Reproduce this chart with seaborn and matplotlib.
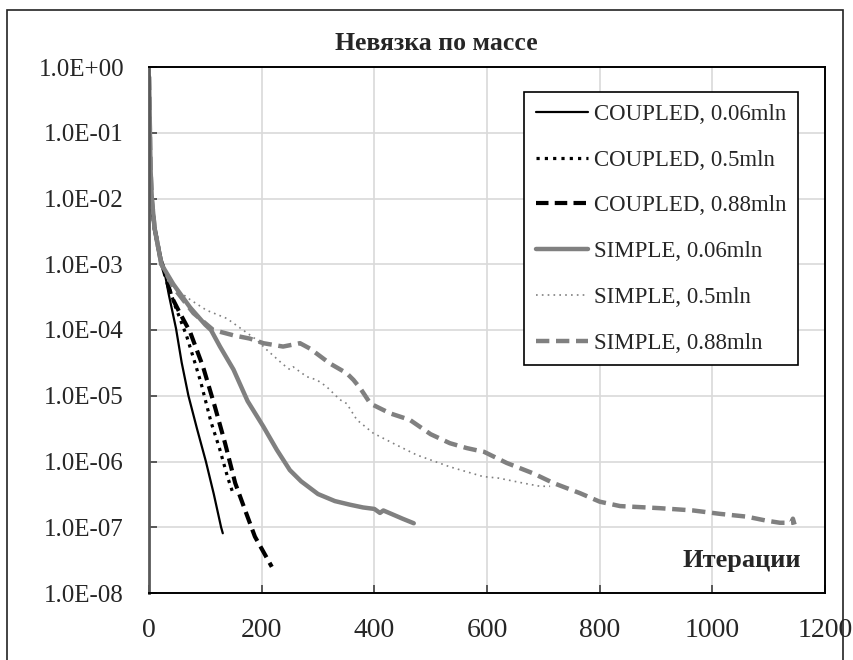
import matplotlib
matplotlib.use("Agg")
import matplotlib.pyplot as plt
from matplotlib.patches import Rectangle
from matplotlib.ticker import FixedLocator, FuncFormatter, NullLocator
import pandas as pd
import seaborn as sns

# ---------------- data ----------------
title = "Невязка по массе"
xlabel = "Итерации"

names = ["COUPLED, 0.06mln", "COUPLED, 0.5mln", "COUPLED, 0.88mln",
         "SIMPLE, 0.06mln", "SIMPLE, 0.5mln", "SIMPLE, 0.88mln"]

c006_x = [0, 2, 5, 10, 16, 25, 35, 48, 58, 70, 85, 101, 115, 128, 131]
c006_y = [4.5e-2, 1.6e-2, 7.9e-3, 3.5e-3, 1.8e-3, 1.0e-3, 3.5e-4, 1.05e-4,
          3.2e-5, 1.0e-5, 3.2e-6, 1.0e-6, 3.2e-7, 1.0e-7, 8.1e-8]

c05_x = [0, 2, 5, 10, 20, 30, 45, 67, 80, 92, 110, 125, 140, 148]
c05_y = [4.0e-2, 1.4e-2, 8.0e-3, 3.5e-3, 1.25e-3, 6.3e-4, 2.5e-4, 8.0e-5,
         3.5e-5, 1.6e-5, 4.0e-6, 1.6e-6, 5.6e-7, 3.5e-7]

c088_x = [0, 2, 5, 10, 20, 30, 40, 55, 73, 96, 117, 135, 153, 173, 188, 218]
c088_y = [5.0e-2, 1.6e-2, 8.0e-3, 3.5e-3, 1.25e-3, 6.3e-4, 3.2e-4, 1.8e-4,
          9.3e-5, 2.75e-5, 6.8e-6, 1.9e-6, 4.7e-7, 1.6e-7, 7.2e-8, 2.5e-8]

s006_x = [0, 1, 2, 3, 5, 10, 22, 43, 73, 100, 110, 126, 150, 175, 203, 227,
          250, 270, 300, 330, 357, 380, 400, 410, 416, 430, 450, 470]
s006_y = [0.71, 0.25, 6.3e-2, 2.5e-2, 1.0e-2, 3.5e-3, 1.0e-3, 5.0e-4, 2.2e-4,
          1.2e-4, 1.0e-4, 5.6e-5, 2.5e-5, 8.3e-6, 3.4e-6, 1.5e-6, 7.4e-7,
          5.0e-7, 3.2e-7, 2.5e-7, 2.2e-7, 2.0e-7, 1.9e-7, 1.65e-7, 1.8e-7,
          1.6e-7, 1.35e-7, 1.15e-7]

s05_x = [0, 1, 2, 3, 5, 10, 22, 35, 49, 73, 102, 138, 162, 191, 209, 238,
         250, 256, 280, 298, 315, 339, 351, 369, 398, 435, 475, 534, 593,
         620, 664, 694, 712]
s05_y = [0.71, 0.25, 6.3e-2, 2.5e-2, 1.0e-2, 3.5e-3, 1.1e-3, 5.6e-4, 4.1e-4,
         2.9e-4, 2.0e-4, 1.5e-4, 1.07e-4, 7.1e-5, 5.0e-5, 3.0e-5, 2.5e-5,
         2.75e-5, 1.95e-5, 1.74e-5, 1.38e-5, 8.7e-6, 7.6e-6, 4.3e-6, 2.7e-6,
         1.86e-6, 1.26e-6, 8.3e-7, 5.9e-7, 5.6e-7, 4.7e-7, 4.2e-7, 4.2e-7]

s088_x = [0, 1, 2, 3, 5, 10, 22, 43, 79, 114, 150, 179, 203, 238, 268, 286,
          321, 351, 363, 375, 393, 428, 463, 500, 534, 564, 595, 635, 682,
          718, 765, 800, 836, 907, 966, 1013, 1061, 1096, 1120, 1140, 1143,
          1146]
s088_y = [0.71, 0.25, 6.3e-2, 2.5e-2, 1.0e-2, 3.5e-3, 1.0e-3, 4.5e-4, 1.8e-4,
          1.0e-4, 8.3e-5, 7.4e-5, 6.3e-5, 5.6e-5, 6.3e-5, 5.2e-5, 3.1e-5,
          2.2e-5, 1.74e-5, 1.3e-5, 7.6e-6, 5.4e-6, 4.3e-6, 2.6e-6, 1.9e-6,
          1.6e-6, 1.4e-6, 9.5e-7, 6.6e-7, 4.7e-7, 3.3e-7, 2.45e-7, 2.1e-7,
          1.95e-7, 1.8e-7, 1.6e-7, 1.45e-7, 1.26e-7, 1.17e-7, 1.17e-7,
          1.35e-7, 1.1e-7]

x_ticks = [0, 200, 400, 600, 800, 1000, 1200]
y_ticks = [1e0, 1e-1, 1e-2, 1e-3, 1e-4, 1e-5, 1e-6, 1e-7, 1e-8]

# ---------------- styling ----------------
sns.set_theme(style="white")
plt.rcParams["font.family"] = ["Liberation Serif", "DejaVu Serif"]

GRAY = "#808080"
styles = [
    dict(color="black", lw=1.6, ls="-"),
    dict(color="black", lw=2.3, ls=(0, (1, 1.6))),
    dict(color="black", lw=3.0, ls=(0, (3, 1.5))),
    dict(color=GRAY, lw=3.2, ls="-"),
    dict(color=GRAY, lw=1.2, ls=(0, (1, 2.5))),
    dict(color=GRAY, lw=3.2, ls=(0, (3, 1.5))),
]
series = [(c006_x, c006_y), (c05_x, c05_y), (c088_x, c088_y),
          (s006_x, s006_y), (s05_x, s05_y), (s088_x, s088_y)]

fig = plt.figure(figsize=(8.54, 6.6), dpi=100)
ax = fig.add_axes([149 / 854, 1 - 593 / 660, 676 / 854, 526 / 660])

for name, (xs, ys), st in zip(names, series, styles):
    df = pd.DataFrame({"x": xs, "y": ys})
    sns.lineplot(data=df, x="x", y="y", ax=ax, estimator=None, sort=False,
                 color=st["color"], linewidth=st["lw"], linestyle=st["ls"],
                 label=name)

ax.set_yscale("log")
ax.set_xlim(0, 1200)
ax.set_ylim(1e-8, 1)
ax.xaxis.set_major_locator(FixedLocator(x_ticks))
ax.yaxis.set_major_locator(FixedLocator(y_ticks))
ax.yaxis.set_minor_locator(NullLocator())
ax.yaxis.set_major_formatter(FuncFormatter(lambda v, p: f"{v:.1E}"))
ax.set_xlabel("")
ax.set_ylabel("")

ax.grid(True, which="major", color="#d9d9d9", lw=1.2)
ax.set_axisbelow(True)
ax.tick_params(axis="both", which="major", direction="in", length=6, width=1.2,
               color="#404040", left=True, bottom=True, top=False, right=False)
ax.tick_params(axis="y", labelsize=18, pad=18)
ax.tick_params(axis="x", labelsize=20, pad=18)

for side in ["top", "right", "bottom"]:
    ax.spines[side].set_color("black")
    ax.spines[side].set_linewidth(1.4)
ax.spines["left"].set_color("#595959")
ax.spines["left"].set_linewidth(2.0)

leg = ax.legend(loc="upper right", bbox_to_anchor=(0.960, 0.952),
                frameon=True, fancybox=False, edgecolor="black",
                framealpha=1, fontsize=16.5, handlelength=2.3,
                handletextpad=0.25, labelspacing=1.08, borderpad=0.5,
                borderaxespad=0)
leg.get_frame().set_linewidth(1.2)

fig.text(436 / 854, 1 - 43 / 660, title, ha="center", va="center",
         fontsize=18.5, fontweight="bold")
fig.text(742 / 854, 1 - 560 / 660, xlabel, ha="center", va="center",
         fontsize=19, fontweight="bold")

fig.patches.append(Rectangle((7 / 854, -0.05), (843 - 7) / 854, 0.9848 + 0.05,
                             transform=fig.transFigure, fill=False,
                             ec="#222222", lw=1.2))

fig.savefig("out.png", dpi=100)
